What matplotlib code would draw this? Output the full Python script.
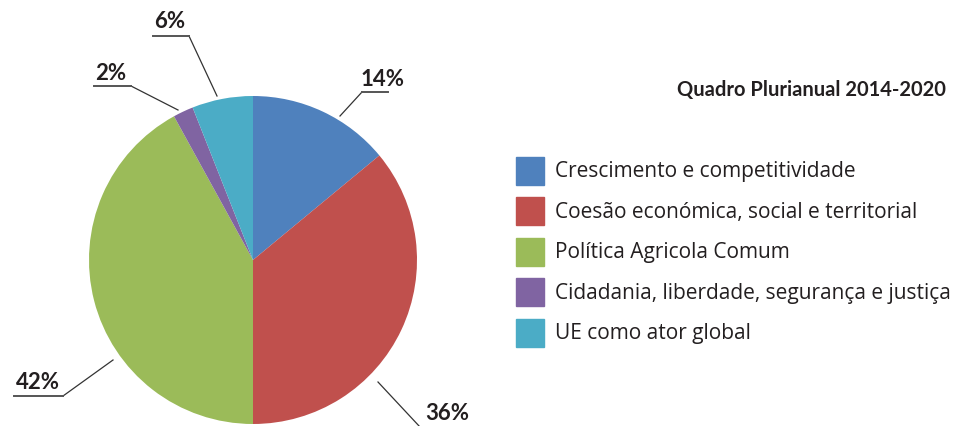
import matplotlib.pyplot as plt
import numpy as np

plt.rcParams['font.family'] = ['Open Sans', 'DejaVu Sans']
bold_font = ['Lato', 'DejaVu Sans']

title = 'Quadro Plurianual 2014-2020'
categories = ['Crescimento e competitividade',
              'Coesão económica, social e territorial',
              'Política Agricola Comum',
              'Cidadania, liberdade, segurança e justiça',
              'UE como ator global']
shares = [14, 36, 42, 2, 6]
colors = ['#4F81BD', '#C0504D', '#9BBB59', '#8064A2', '#4BACC6']

W, H = 956, 427
cx, cy, r = 253, 261, 164   # pie centre and radius in pixels

fig = plt.figure(figsize=(W / 100, H / 100), dpi=100)
ax = fig.add_axes([(cx - r) / W, (H - cy - r) / H, 2 * r / W, 2 * r / H])
ax.pie(shares, colors=colors, startangle=90, counterclock=False, radius=1,
       wedgeprops=dict(linewidth=0))
ax.set_xlim(-1, 1)
ax.set_ylim(-1, 1)
ax.set_aspect('auto')
ax.axis('off')


def px(x, y):
    # pixel position (from top left) -> pie data coords
    return (x - cx) / r, (cy - y) / r


# leader lines: anchor on pie edge, elbow, end of underline, text centre
leaders = [
    ((340, 117), (362, 93), (388, 93), (383, 79)),   # 14%
    ((378, 383), (420, 428), (420, 428), (447, 414)),  # 36%
    ((113, 361), (63, 397), (14, 397), (38, 383)),   # 42%
    ((178, 111), (131, 87), (94, 87), (111, 73)),    # 2%
    ((217, 97), (189, 37), (153, 37), (170, 21)),    # 6%
]
for val, (a, b, c, t) in zip(shares, leaders):
    xs, ys = zip(*[px(*p) for p in (a, b, c)])
    ax.plot(xs[:2], ys[:2], color='#333333', lw=0.9, clip_on=False)
    ax.plot(xs[1:], ys[1:], color='#555555', lw=1.4, clip_on=False)
    tx, ty = px(*t)
    ax.text(tx, ty, f'{val}%', ha='center', va='center', fontsize=16,
            fontweight='bold', family=bold_font, color='#231F20',
            clip_on=False)

fig.text(946 / W, 1 - 90 / H, title, ha='right', va='center', fontsize=14.5,
         fontweight='bold', family=bold_font, color='#231F20')

# legend drawn by hand
for i, (lab, col) in enumerate(zip(categories, colors)):
    yc = 172 + i * 40.4
    fig.patches.append(plt.Rectangle((516 / W, 1 - (yc + 14) / H), 28 / W, 28 / H,
                                     transform=fig.transFigure, color=col))
    fig.text(555 / W, 1 - yc / H, lab, ha='left', va='center', fontsize=15,
             color='#231F20')

fig.savefig('out.png', dpi=100)
